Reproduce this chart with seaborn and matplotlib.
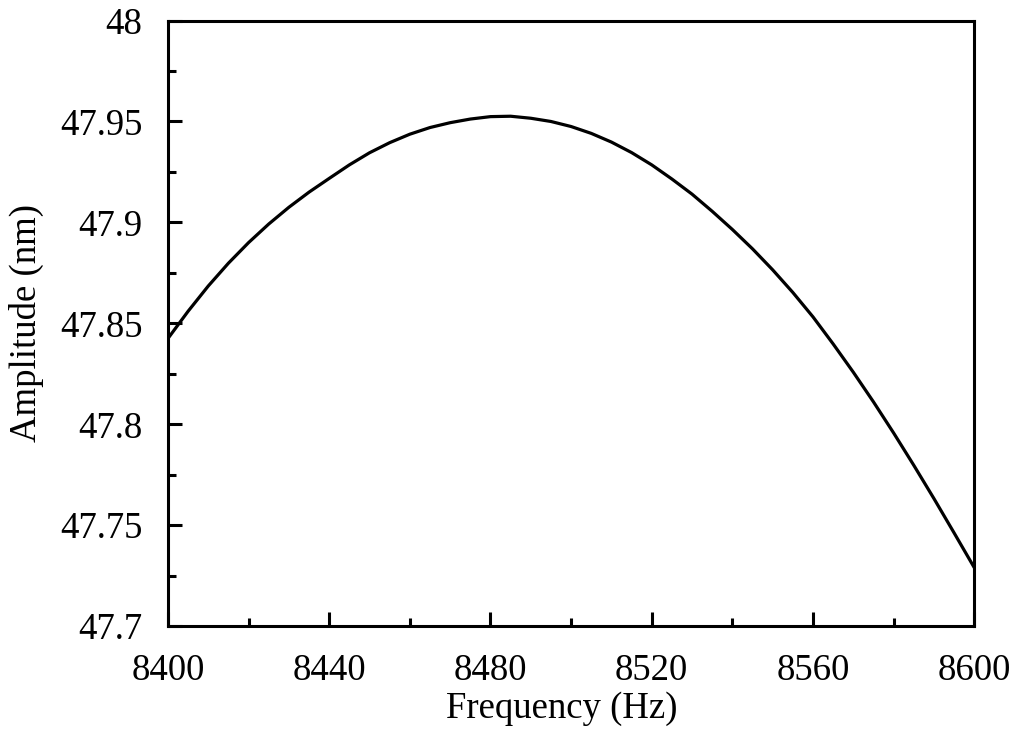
import numpy as np
import pandas as pd
import matplotlib
matplotlib.use("Agg")
import matplotlib.pyplot as plt
import seaborn as sns
from matplotlib.ticker import MultipleLocator

frequency = [8400, 8405, 8410, 8415, 8420, 8425, 8430, 8435, 8440, 8445, 8450,
             8455, 8460, 8465, 8470, 8475, 8480, 8485, 8490, 8495, 8500,
             8505, 8510, 8515, 8520, 8525, 8530, 8535, 8540, 8545, 8550,
             8555, 8560, 8565, 8570, 8575, 8580, 8585, 8590, 8595, 8600]
amplitude = [47.8425, 47.8560, 47.8685, 47.8798, 47.8900, 47.8992, 47.9075, 47.9150,
             47.9218, 47.9285, 47.9345, 47.9395, 47.9437, 47.9470, 47.9494, 47.9512,
             47.9524, 47.9526, 47.9516, 47.9500, 47.9475, 47.9441, 47.9398, 47.9346,
             47.9285, 47.9215, 47.9140, 47.9055, 47.8965, 47.8869, 47.8765, 47.8653,
             47.8532, 47.8398, 47.8258, 47.8111, 47.7957, 47.7797, 47.7632, 47.7462,
             47.7290]

x_ticks = [8400, 8440, 8480, 8520, 8560, 8600]
y_ticks = [47.7, 47.75, 47.8, 47.85, 47.9, 47.95, 48.0]
y_tick_labels = ["47.7", "47.75", "47.8", "47.85", "47.9", "47.95", "48"]

df = pd.DataFrame({"Frequency": frequency, "Amplitude": amplitude})

sns.set_theme(style="white")
plt.rcParams["font.family"] = ["Liberation Serif", "DejaVu Serif"]

fig = plt.figure(figsize=(10.18, 7.34), dpi=100)
ax = fig.add_axes([0.165, 0.147, 0.792, 0.825])

sns.lineplot(data=df, x="Frequency", y="Amplitude", ax=ax, color="black",
             linewidth=2.3, estimator=None, sort=True)

ax.set_xlim(8400, 8600)
ax.set_ylim(47.7, 48.0)
ax.set_xticks(x_ticks)
ax.set_xticklabels([str(v) for v in x_ticks])
ax.set_yticks(y_ticks)
ax.set_yticklabels(y_tick_labels)
ax.xaxis.set_minor_locator(MultipleLocator(20))
ax.yaxis.set_minor_locator(MultipleLocator(0.025))

ax.tick_params(which="both", direction="in", color="black", width=2.2,
               bottom=True, left=True, top=False, right=False,
               labelsize=26.5, labelcolor="black")
ax.tick_params(which="major", length=10)
ax.tick_params(which="minor", length=5.5)
ax.tick_params(axis="x", which="major", pad=20)
ax.tick_params(axis="y", which="major", pad=18.5)

for s in ax.spines.values():
    s.set_color("black")
    s.set_linewidth(2.2)
    s.set_visible(True)

ax.set_xlabel("Frequency (Hz)", fontsize=26.5, color="black")
ax.set_ylabel("Amplitude (nm)", fontsize=26.5, color="black", labelpad=11)
ax.xaxis.set_label_coords(0.488, -0.108)
ax.grid(False)
ax.set_facecolor("white")
fig.patch.set_facecolor("white")

fig.savefig("out.png", dpi=100)
